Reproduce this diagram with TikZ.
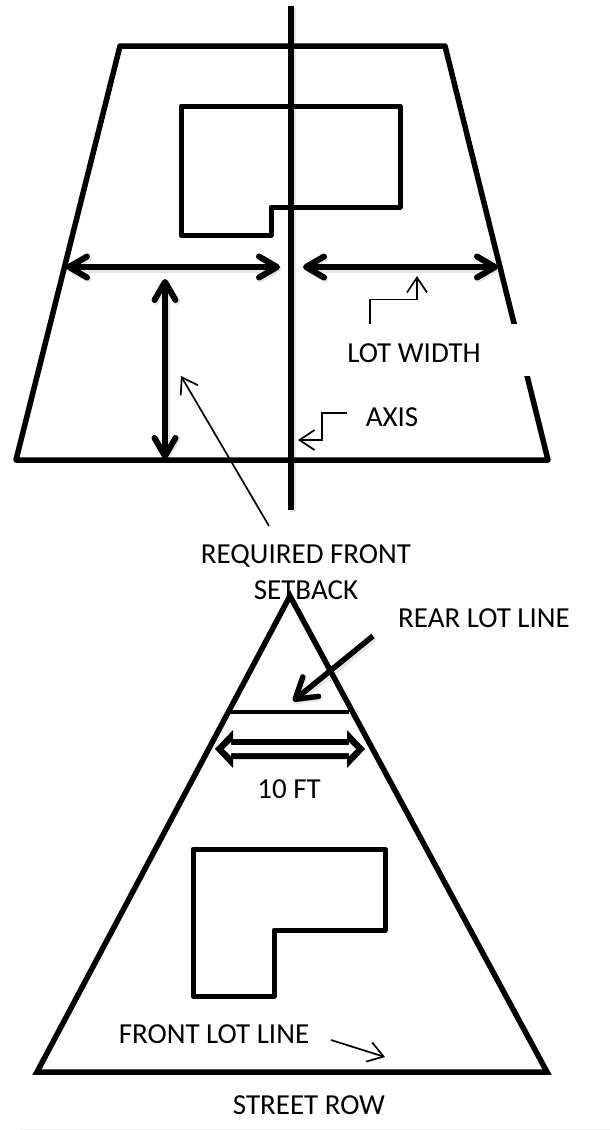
\documentclass[tikz,border=0pt]{standalone}
\usepackage{fontspec}
\setmainfont{Carlito}
\usetikzlibrary{arrows.meta,calc}
\tikzset{
  thick line/.style={line width=5.5pt,line join=round,line cap=round,black},
  bldg line/.style={line width=5pt,line join=round,black},
  barb/.tip={Straight Barb[length=18pt,width=21pt,line width=6pt,round]},
  bigbarb/.tip={Straight Barb[length=20pt,width=25pt,line width=5.5pt,round]},
  dim arrow/.style={line width=6pt,line cap=butt,black,{barb}-{barb}},
  shadow line/.style={gray!70,opacity=.28,line width=7pt,{barb}-{barb}},
  thin arrow/.style={line width=1.7pt,black,-{Straight Barb[length=15pt,width=20pt,line width=1.7pt]}},
  lbl/.style={font=\fontsize{29}{36}\selectfont,text=black,inner sep=0pt,align=center},
}
\begin{document}
\begin{tikzpicture}[x=1pt,y=-1pt]
\useasboundingbox (0,0) rectangle (610,1130);
% coordinates
\coordinate (axT) at (291,6); \coordinate (axB) at (291,510);
\coordinate (tl) at (120,46); \coordinate (tr) at (445,46);
\coordinate (br) at (548,460); \coordinate (bl) at (16,460);
\coordinate (a1) at (66,267); \coordinate (a2) at (280,267);
\coordinate (a3) at (303,267); \coordinate (a4) at (498,267);
\coordinate (a5) at (165,279); \coordinate (a6) at (165,459);
\coordinate (ra1) at (373,636); \coordinate (ra2) at (293,701);
% shadows
\begin{scope}[transform canvas={shift={(1.5pt,-2pt)}}]
\draw[gray!70,opacity=.28,line width=7pt] (axT) -- (axB);
\draw[shadow line] (a1) -- (a2);
\draw[shadow line] (a3) -- (a4);
\draw[shadow line] (a5) -- (a6);
\draw[gray!70,opacity=.28,line width=7pt,-{bigbarb}] (ra1) -- (ra2);
\end{scope}
% upper lot
\draw[thick line] (tl) -- (tr) -- (br) -- (bl) -- cycle;
\fill[white] (495,324) rectangle (545,376);
\draw[thick line,line cap=butt] (axT) -- (axB);
% upper building
\draw[bldg line] (181,106) -- (400,106) -- (400,207) -- (271,207) -- (271,235) -- (181,235) -- cycle;
% dimension arrows
\draw[dim arrow] (a1) -- (a2);
\draw[dim arrow] (a3) -- (a4);
\draw[dim arrow,line width=5.5pt] (a5) -- (a6);
% labels upper
\node[lbl] (lw) at (414,353) {LOT WIDTH};
\node[lbl] (ax) at (392,417) {AXIS};
\node[lbl] (rfs) at (306,572.5) {REQUIRED FRONT\\SETBACK};
\coordinate (l1) at (370,324); \coordinate (l2) at (370,299.5); \coordinate (l3) at (417,299.5); \coordinate (l4) at (417,276);
\draw[thin arrow] (l1) -- (l2) -- (l3) -- (l4);
\coordinate (x1) at (347,413); \coordinate (x2) at (322,413); \coordinate (x3) at (322,440); \coordinate (x4) at (298,440);
\draw[thin arrow] (x1) -- (x2) -- (x3) -- (x4);
\coordinate (s1) at (269,526); \coordinate (s2) at (181,376);
\draw[thin arrow] (s1) -- (s2);
% triangle
\coordinate (ta) at (290,596); \coordinate (tbl) at (37,1072); \coordinate (tbr) at (547,1072);
\draw[thick line,line join=miter] (ta) -- (tbr) -- (tbl) -- cycle;
\coordinate (rl1) at (231,712); \coordinate (rl2) at (349,712);
\draw[black,line width=4pt] (rl1) -- (rl2);
\node[lbl] (rll) at (484,618) {REAR LOT LINE};
\draw[line width=5.5pt,line cap=butt,black,-{bigbarb}] (ra1) -- (ra2);
% hollow double arrow
\fill[black] (215,749) -- (233,730) -- (233,739) -- (347,739) -- (347,730) -- (365,749) -- (347,768) -- (347,759) -- (233,759) -- (233,768) -- cycle;
\fill[white] (224,749) -- (231,742) -- (231,745) -- (349,745) -- (349,742) -- (356,749) -- (349,756) -- (349,753) -- (231,753) -- (231,756) -- cycle;
\node[lbl] (ten) at (289,789) {10 FT};
% lower building
\draw[bldg line] (193,849) -- (385,849) -- (385,930) -- (274,930) -- (274,996) -- (193,996) -- cycle;
\node[lbl] (fll) at (214,1034) {FRONT LOT LINE};
\coordinate (f1) at (331,1040); \coordinate (f2) at (385,1057);
\draw[thin arrow] (f1) -- (f2);
\node[lbl] (sr) at (309,1105) {STREET ROW};
\draw[line width=1pt,black!6] (20,1129) -- (610,1129);
\end{tikzpicture}
\end{document}
